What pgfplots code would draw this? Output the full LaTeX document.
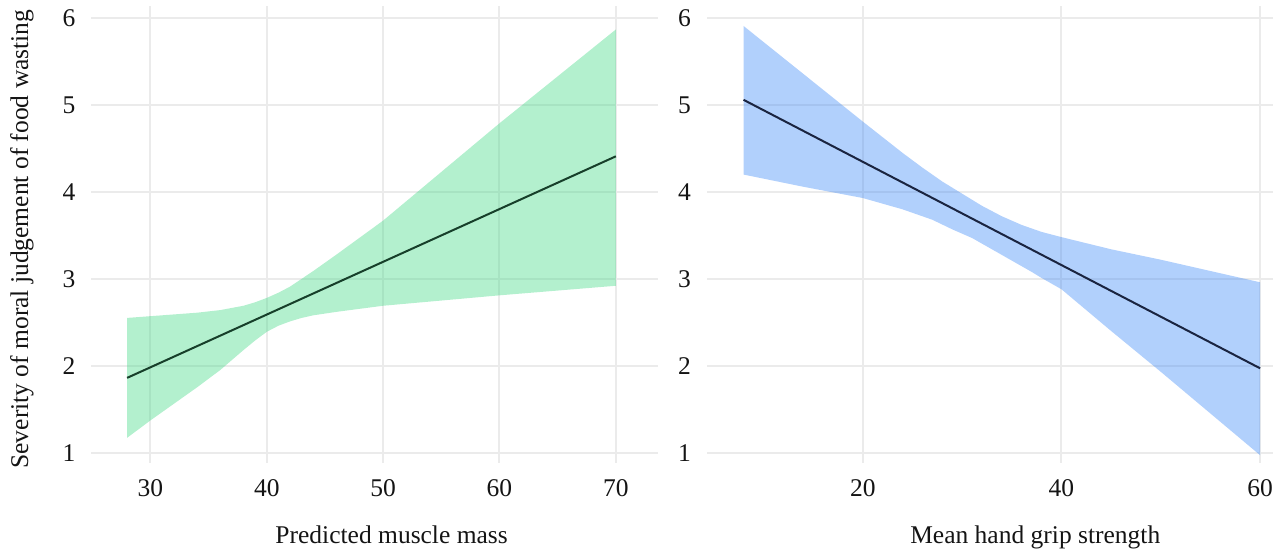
\documentclass[border=0pt]{standalone}
\usepackage{fontspec}
\setmainfont{Liberation Serif}
\usepackage{pgfplots}
\pgfplotsset{compat=1.18}
\definecolor{gridc}{HTML}{EBEBEB}
\definecolor{gfill}{HTML}{41D985}
\definecolor{bfill}{HTML}{3C89F7}
\definecolor{gline}{HTML}{173F2A}
\definecolor{bline}{HTML}{1A2440}
\begin{document}
\fontsize{10.2}{12}\selectfont
\begin{tikzpicture}
\useasboundingbox (0,0) rectangle (513.2pt,-220pt);
\pgfplotsset{
  panel/.style={
    scale only axis,
    width=226.5pt, height=182.8pt,
    ymin=0.88, ymax=6.14,
    ytick={1,2,3,4,5,6},
    grid=major,
    major grid style={gridc, line width=0.8pt},
    axis line style={draw=none},
    major tick length=0pt,
    tick style={draw=none},
    /pgf/number format/assume math mode=true,
    tick label style={font=\fontsize{10.2}{12}\selectfont, text=black!92},
    xticklabel style={anchor=base, yshift=-13.5pt},
    yticklabel style={xshift=-2.9pt},
    label style={font=\fontsize{10.2}{12}\selectfont, text=black!92},
  }
}
% Left panel
\begin{axis}[panel,
  at={(36.6pt,-2.4pt)}, anchor=north west,
  xmin=24.94, xmax=73.6,
  xtick={30,40,50,60,70},
  xlabel={Predicted muscle mass},
  xlabel style={at={(axis description cs:0.53,0)}, anchor=base, yshift=-32pt},
  ylabel={Severity of moral judgement of food wasting},
  ylabel style={at={(axis description cs:-0.1227,0.49)}, rotate=0, anchor=center},
]
\addplot[draw=none, fill=gfill, fill opacity=0.4] coordinates {
 (28,2.55) (31,2.58) (34,2.61) (36,2.64) (38,2.69) (39,2.73) (40,2.78) (41,2.84) (42,2.91) (43,3.00) (44,3.09) (46,3.28) (50,3.67) (55,4.23) (60,4.79) (65,5.33) (70,5.87)
 (70,2.92) (60,2.81) (50,2.69) (46,2.62) (44,2.58) (43,2.55) (42,2.51) (41,2.46) (40,2.39) (39,2.29) (38,2.18) (36,1.95) (34,1.75) (32,1.56) (30,1.37) (28,1.17)
} -- cycle;
\addplot[gline, line width=0.8pt] coordinates {(28,1.86) (70,4.41)};
\end{axis}
% Right panel
\begin{axis}[panel,
  at={(282.8pt,-2.4pt)}, anchor=north west,
  width=226.4pt,
  xmin=4.32, xmax=61.3,
  xtick={20,40,60},
  xlabel={Mean hand grip strength},
  xlabel style={at={(axis description cs:0.58,0)}, anchor=base, yshift=-32pt},
]
\addplot[draw=none, fill=bfill, fill opacity=0.4] coordinates {
 (8,5.91) (14,5.36) (20,4.81) (24,4.45) (26,4.28) (28,4.12) (29,4.05) (30,3.98) (32,3.84) (34,3.72) (36,3.62) (38,3.54) (40,3.48) (45,3.34) (50,3.22) (55,3.09) (60,2.96)
 (60,0.97) (55,1.45) (50,1.93) (45,2.40) (40,2.88) (38,3.01) (37,3.08) (35,3.21) (33,3.34) (31,3.47) (29,3.57) (27,3.68) (24,3.80) (20,3.93) (14,4.06) (8,4.20)
} -- cycle;
\addplot[bline, line width=0.8pt] coordinates {(8,5.06) (60,1.97)};
\end{axis}
\end{tikzpicture}
\end{document}
